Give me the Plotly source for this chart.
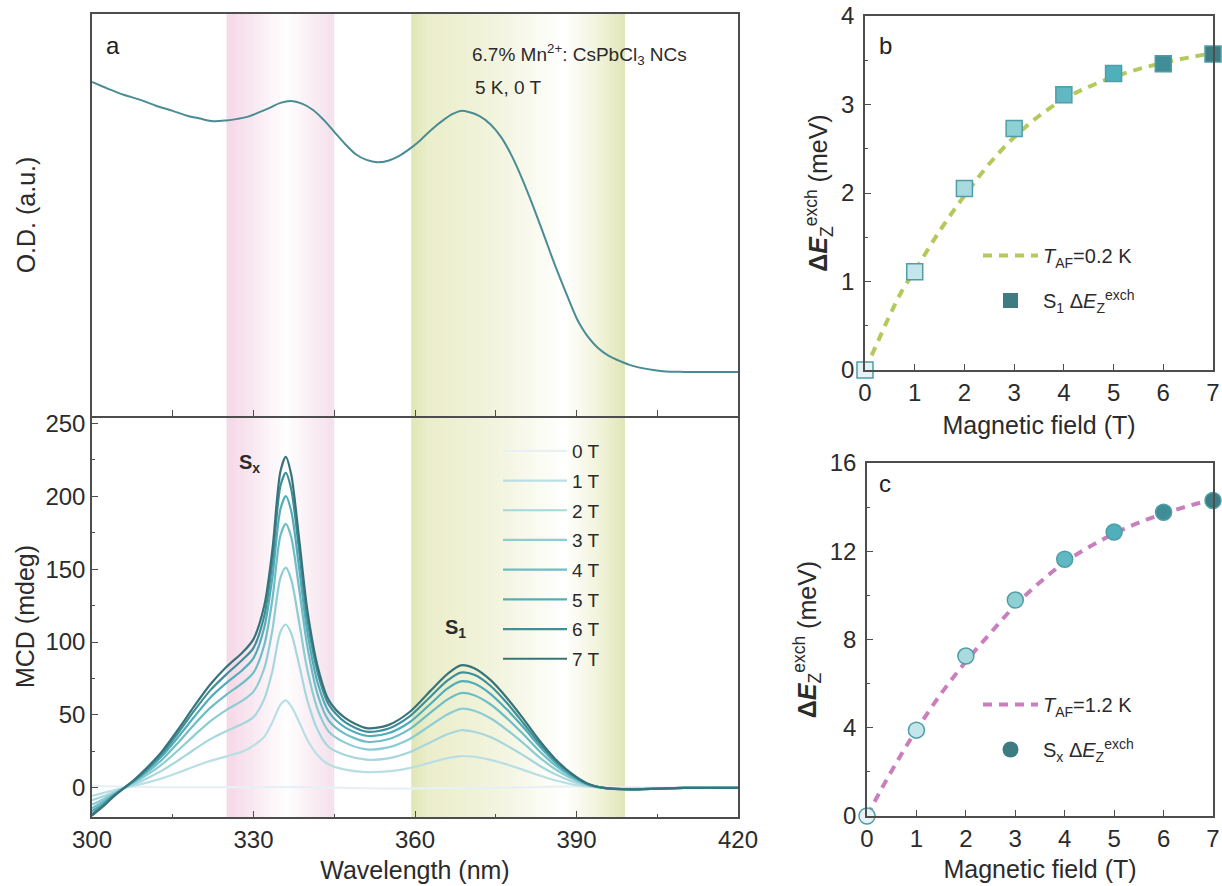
import plotly.graph_objects as go

FONT = "Liberation Sans, Arial, sans-serif"
TXT = "#2b2b2b"
AXC = "#4d4d4d"

# ---------------- Panel a (top): O.D. spectrum ----------------
od_wl = [300, 303, 306, 309, 312, 315, 318, 320, 322.5, 325, 327, 329, 331, 333, 335, 337, 339, 341, 343, 345,
         347, 349, 351, 353, 355, 357, 359, 361, 363, 365, 367, 368.5, 370, 372, 374, 376, 378, 380, 382, 384,
         386, 388, 390, 391, 392, 394, 396, 398, 400, 403, 406, 410, 420]
od_val = [0.879, 0.861, 0.845, 0.832, 0.816, 0.803, 0.789, 0.783, 0.776, 0.778, 0.782, 0.788, 0.799, 0.811, 0.824,
          0.829, 0.822, 0.806, 0.780, 0.748, 0.716, 0.689, 0.674, 0.668, 0.672, 0.684, 0.703, 0.726, 0.753, 0.776,
          0.795, 0.803, 0.800, 0.789, 0.768, 0.734, 0.684, 0.621, 0.550, 0.474, 0.397, 0.326, 0.258, 0.232, 0.211,
          0.179, 0.158, 0.145, 0.134, 0.124, 0.118, 0.116, 0.116]

# ---------------- Panel a (bottom): MCD spectra ----------------
mcd_wl = [300, 302, 304, 306, 308, 310, 313, 316, 319, 322, 325, 328, 330, 332, 333.5, 335, 336, 337, 338.5, 340,
          342, 344, 347, 351, 355, 359, 363, 366, 368.5, 371, 374, 377, 380, 383, 386, 389, 392, 395, 400, 410, 420]
mcd_0T = [1.5, 1.2, 1, 0.8, 0.7, 0.6, 0.5, 0.5, 0.5, 0.5, 0.5, 0.5, 0.5, 0.5, 0.5, 0.5, 0.5, 0.5, 0.5, 0.4,
          0.3, 0.2, 0, -0.3, -0.5, -0.5, -0.3, -0.2, 0, 0, 0, 0.2, 0.3, 0.5, 0.8, 1, 0.8, 0.5, 0.3, 0.2, 0]
mcd_1T = [-5.5, -3.6, -1.7, 0, 1.6, 3.4, 6.5, 10.4, 14.6, 18.5, 21.6, 25, 29, 35, 45, 57, 60, 56, 45, 33,
          22, 16, 12.5, 10.8, 11.3, 13.5, 17.5, 20.3, 21.8, 21.3, 19.2, 16.1, 12.5, 8.6, 5.2, 2.6, 0.8, 0, -0.5, 0, 0]
mcd_2T = [-8.5, -6, -3, 0, 2.8, 6.1, 11.8, 18.8, 26.3, 33.4, 39, 44, 48.5, 61, 80, 107, 112, 106, 84, 60,
          39, 28, 22.5, 19.3, 20.2, 24.4, 31.5, 36.7, 39.5, 38.5, 34.8, 29.1, 22.6, 15.5, 9.4, 4.7, 1.4, 0, -0.7, 0, 0]
mcd_3T = [-11.5, -8, -4, 0, 3.9, 8.4, 16.1, 25.8, 36, 45.8, 53.5, 60, 66, 82, 108, 144, 151, 143, 113, 81,
          53, 38.5, 31, 26.4, 27.7, 33.5, 43.2, 50.3, 54.2, 52.9, 47.7, 40, 31, 21.3, 12.9, 6.5, 1.9, 0, -1, 0, 0]
mcd_4T = [-14, -9.5, -4.5, 0, 4.6, 10, 19.3, 31, 43.5, 55, 64, 72, 79, 98, 129, 173, 181, 172, 136, 97,
          63, 46, 37, 31.6, 33.3, 40.3, 52, 60.5, 65, 63.5, 57.3, 48, 37.2, 25.6, 15.5, 7.8, 2.3, 0, -1, 0, 0]
mcd_5T = [-16, -11, -5, 0, 5.2, 11.3, 21.8, 34.8, 48.7, 62, 72, 81, 89, 110, 144, 191, 200, 190, 150, 107,
          71, 52, 41.5, 35.7, 37.4, 45, 58, 68, 73, 71.5, 64.5, 54, 42, 29, 17.5, 8.7, 2.6, 0, -1, 0, 0]
mcd_6T = [-18, -12, -5.5, 0, 5.6, 12, 23.5, 37.7, 53, 67, 78, 88, 96, 118, 155, 207, 216, 205, 162, 116,
          78, 57, 45, 38.5, 40.5, 49, 63, 73.5, 79, 77.5, 70, 58.5, 45, 31, 19, 9.4, 2.8, 0, -1, 0, 0]
mcd_7T = [-19, -13, -6, 0, 6, 13, 25, 40, 56, 71, 83, 93, 102, 125, 163, 217, 227, 215, 170, 122,
          82, 60, 48, 41, 43, 52, 67, 78, 84, 82, 74, 62, 48, 33, 20, 10, 3, 0, -1, 0, 0]
mcd_series = [mcd_0T, mcd_1T, mcd_2T, mcd_3T, mcd_4T, mcd_5T, mcd_6T, mcd_7T]
mcd_names = ["0 T", "1 T", "2 T", "3 T", "4 T", "5 T", "6 T", "7 T"]
mcd_colors = ["#e6f1f5", "#b9dfe5", "#a6d7dd", "#8ccdd4", "#6dbdc7", "#52adba", "#3f8f99", "#39737a"]

# highlighted bands (nm)
pink_band = [325, 345]
yellow_band = [359.3, 399]

# ---------------- Panel b ----------------
field = [0, 1, 2, 3, 4, 5, 6, 7]
s1_dez = [0, 1.11, 2.05, 2.73, 3.11, 3.35, 3.46, 3.57]
fit_field = [0, 0.25, 0.5, 0.75, 1, 1.5, 2, 2.5, 3, 3.5, 4, 4.5, 5, 5.5, 6, 6.5, 7]
fit_b = [0, 0.31, 0.62, 0.9, 1.12, 1.57, 1.97, 2.33, 2.63, 2.87, 3.06, 3.2, 3.31, 3.4, 3.47, 3.53, 3.58]

# ---------------- Panel c ----------------
sx_dez = [0, 3.89, 7.25, 9.79, 11.64, 12.87, 13.77, 14.3]
fit_c = [0, 1.05, 2.05, 3.0, 3.9, 5.55, 7.0, 8.3, 9.55, 10.6, 11.5, 12.2, 12.8, 13.3, 13.7, 14.05, 14.35]

marker_colors = ["#e6f2f5", "#c4e6ea", "#a9dadd", "#8ed0d4", "#62b8c2", "#4fb0bc", "#408d97", "#3d7c82"]

# ---------------- layout geometry (paper fractions) ----------------
W, H = 1222, 886
xa_dom = [92 / W, 738 / W]
ya_top = [1 - 416 / H, 1 - 14 / H]
ya_bot = [1 - 817 / H, 1 - 416 / H]
xb_dom = [865 / W, 1213 / W]
yb_dom = [1 - 370 / H, 1 - 16 / H]
xc_dom = [867 / W, 1213 / W]
yc_dom = [1 - 816 / H, 1 - 463 / H]

fig = go.Figure()

def hex2rgb(h):
    h = h.lstrip("#")
    return [int(h[i:i + 2], 16) for i in (0, 2, 4)]

def band_color(stops, f):
    for (f0, c0), (f1, c1) in zip(stops[:-1], stops[1:]):
        if f0 <= f <= f1:
            t = 0 if f1 == f0 else (f - f0) / (f1 - f0)
            a, b = hex2rgb(c0), hex2rgb(c1)
            return "rgb(%d,%d,%d)" % tuple(round(a[i] + (b[i] - a[i]) * t) for i in range(3))
    return stops[-1][1]

pink_stops = [(0, "#f5d6e6"), (0.2, "#f8e4ee"), (0.55, "#ffffff"), (0.8, "#f9ecf3"), (1, "#f4dfeb")]
yellow_stops = [(0, "#e1e6b5"), (0.08, "#ebeecb"), (0.4, "#f2f4dd"), (0.72, "#ffffff"), (0.88, "#f1f3da"), (1, "#e0e5b6")]

shapes = []
for band, stops in ((pink_band, pink_stops), (yellow_band, yellow_stops)):
    n = 60
    step = (band[1] - band[0]) / n
    for i in range(n):
        x0 = band[0] + i * step
        x1 = x0 + step * 1.15 if i < n - 1 else band[1]
        shapes.append(dict(type="rect", xref="x", yref="paper", x0=x0, x1=x1,
                           y0=ya_bot[0], y1=ya_top[1], line=dict(width=0),
                           fillcolor=band_color(stops, (i + 0.5) / n), layer="below"))

# O.D. trace
fig.add_trace(go.Scatter(x=od_wl, y=od_val, mode="lines", line=dict(color="#4a8c94", width=2, shape="spline"),
                         xaxis="x2", yaxis="y2", showlegend=False))

# MCD traces
for i, (ser, nm, col) in enumerate(zip(mcd_series, mcd_names, mcd_colors)):
    fig.add_trace(go.Scatter(x=mcd_wl, y=ser, mode="lines", name=nm,
                             line=dict(color=col, width=2.2, shape="spline", smoothing=0.8),
                             xaxis="x", yaxis="y", legend="legend", legendgroup="m" + str(i)))

# Panel b traces
fig.add_trace(go.Scatter(x=fit_field, y=fit_b, mode="lines", name="<i>T</i><sub>AF</sub>=0.2 K",
                         line=dict(color="#b3c95b", width=4, dash="9px,7px", shape="spline"),
                         xaxis="x3", yaxis="y3", legend="legend2", legendgroup="b1"))
fig.add_trace(go.Scatter(x=field, y=s1_dez, mode="markers", showlegend=False,
                         marker=dict(symbol="square", size=16, color=marker_colors,
                                     line=dict(color="#4f9da6", width=1.5)),
                         cliponaxis=False, xaxis="x3", yaxis="y3"))
fig.add_trace(go.Scatter(x=[None], y=[None], mode="markers",
                         name="S<sub>1</sub> Δ<i>E</i><sub>Z</sub><sup>exch</sup>",
                         marker=dict(symbol="square", size=15, color="#3d7c82"),
                         xaxis="x3", yaxis="y3", legend="legend2", legendgroup="b2"))

# Panel c traces
fig.add_trace(go.Scatter(x=fit_field, y=fit_c, mode="lines", name="<i>T</i><sub>AF</sub>=1.2 K",
                         line=dict(color="#c97fbd", width=4, dash="9px,7px", shape="spline"),
                         xaxis="x4", yaxis="y4", legend="legend3", legendgroup="c1"))
fig.add_trace(go.Scatter(x=field, y=sx_dez, mode="markers", showlegend=False,
                         marker=dict(symbol="circle", size=16, color=marker_colors,
                                     line=dict(color="#4f9da6", width=1.5)),
                         cliponaxis=False, xaxis="x4", yaxis="y4"))
fig.add_trace(go.Scatter(x=[None], y=[None], mode="markers",
                         name="S<sub>x</sub> Δ<i>E</i><sub>Z</sub><sup>exch</sup>",
                         marker=dict(symbol="circle", size=16, color="#3d7c82"),
                         xaxis="x4", yaxis="y4", legend="legend3", legendgroup="c2"))

tickfont = dict(family=FONT, size=24, color=TXT)
titlefont = dict(family=FONT, size=25, color=TXT)

def axis(**kw):
    d = dict(showline=True, linecolor=AXC, linewidth=1.5, mirror=True, ticks="inside", ticklen=6,
             tickcolor=AXC, tickwidth=1.3, showgrid=False, zeroline=False, tickfont=tickfont,
             automargin=False, ticklabeloverflow="allow")
    d.update(kw)
    return d

def minor(dt):
    return dict(dtick=dt, ticks="inside", ticklen=3.5, tickcolor=AXC, tickwidth=1.2, showgrid=False)

fig.update_layout(
    width=W, height=H, margin=dict(l=0, r=0, t=0, b=0),
    paper_bgcolor="white", plot_bgcolor="rgba(0,0,0,0)",
    font=dict(family=FONT, color=TXT),
    shapes=shapes,
    xaxis=axis(domain=xa_dom, anchor="y", range=[300, 420], tick0=300, dtick=30, minor=minor(15),
               mirror=False, title=dict(text="Wavelength (nm)", font=titlefont, standoff=10)),
    yaxis=axis(domain=ya_bot, anchor="x", range=[-20, 255], tick0=0, dtick=50, minor=minor(25),
               title=dict(text="MCD (mdeg)", font=titlefont, standoff=4)),
    xaxis2=axis(domain=xa_dom, anchor="y2", range=[300, 420], matches="x", tick0=300, dtick=15,
                showticklabels=False),
    yaxis2=axis(domain=ya_top, anchor="x2", range=[0, 1.058], ticks="", showticklabels=False,
                title=dict(text="O.D. (a.u.)", font=titlefont, standoff=48)),
    xaxis3=axis(domain=xb_dom, anchor="y3", range=[0, 7], dtick=1,
                title=dict(text="Magnetic field (T)", font=titlefont, standoff=12)),
    yaxis3=axis(domain=yb_dom, anchor="x3", range=[0, 4], dtick=1, minor=minor(0.5), ticklabelstandoff=4,
                title=dict(text="<b>Δ<i>E</i></b><sub>Z</sub><sup>exch</sup> (meV)", font=titlefont, standoff=6)),
    xaxis4=axis(domain=xc_dom, anchor="y4", range=[0, 7], dtick=1,
                title=dict(text="Magnetic field (T)", font=titlefont, standoff=10)),
    yaxis4=axis(domain=yc_dom, anchor="x4", range=[0, 16], dtick=4, minor=minor(2), ticklabelstandoff=4,
                title=dict(text="<b>Δ<i>E</i></b><sub>Z</sub><sup>exch</sup> (meV)", font=titlefont, standoff=6)),
    legend=dict(x=498 / W, y=1 - 432 / H, xanchor="left", yanchor="top", bgcolor="rgba(0,0,0,0)",
                font=dict(family=FONT, size=19, color=TXT), itemwidth=64, tracegroupgap=2,
                traceorder="grouped"),
    legend2=dict(x=978 / W, y=1 - 236 / H, xanchor="left", yanchor="top", bgcolor="rgba(0,0,0,0)",
                 font=dict(family=FONT, size=20, color=TXT), itemwidth=55, tracegroupgap=16),
    legend3=dict(x=978 / W, y=1 - 685 / H, xanchor="left", yanchor="top", bgcolor="rgba(0,0,0,0)",
                 font=dict(family=FONT, size=20, color=TXT), itemwidth=55, tracegroupgap=16),
    annotations=[
        dict(text="a", x=104 / W, y=1 - 45 / H, xref="paper", yref="paper", showarrow=False,
             xanchor="left", yanchor="middle", font=dict(family=FONT, size=24, color="#222")),
        dict(text="6.7% Mn<sup>2+</sup>: CsPbCl<sub>3</sub> NCs", x=470 / W, y=1 - 55 / H, xref="paper",
             yref="paper", showarrow=False, xanchor="left", yanchor="middle",
             font=dict(family=FONT, size=19, color=TXT)),
        dict(text="5 K, 0 T", x=473 / W, y=1 - 88 / H, xref="paper", yref="paper", showarrow=False,
             xanchor="left", yanchor="middle", font=dict(family=FONT, size=19, color=TXT)),
        dict(text="<b>S<sub>x</sub></b>", x=249 / W, y=1 - 463 / H, xref="paper", yref="paper",
             showarrow=False, xanchor="center", yanchor="middle", font=dict(family=FONT, size=20, color=TXT)),
        dict(text="<b>S<sub>1</sub></b>", x=455 / W, y=1 - 628 / H, xref="paper", yref="paper",
             showarrow=False, xanchor="center", yanchor="middle", font=dict(family=FONT, size=20, color=TXT)),
        dict(text="b", x=877 / W, y=1 - 45 / H, xref="paper", yref="paper", showarrow=False,
             xanchor="left", yanchor="middle", font=dict(family=FONT, size=24, color="#222")),
        dict(text="c", x=877 / W, y=1 - 483 / H, xref="paper", yref="paper", showarrow=False,
             xanchor="left", yanchor="middle", font=dict(family=FONT, size=24, color="#222")),
    ],
)

fig.write_html("out.html")
